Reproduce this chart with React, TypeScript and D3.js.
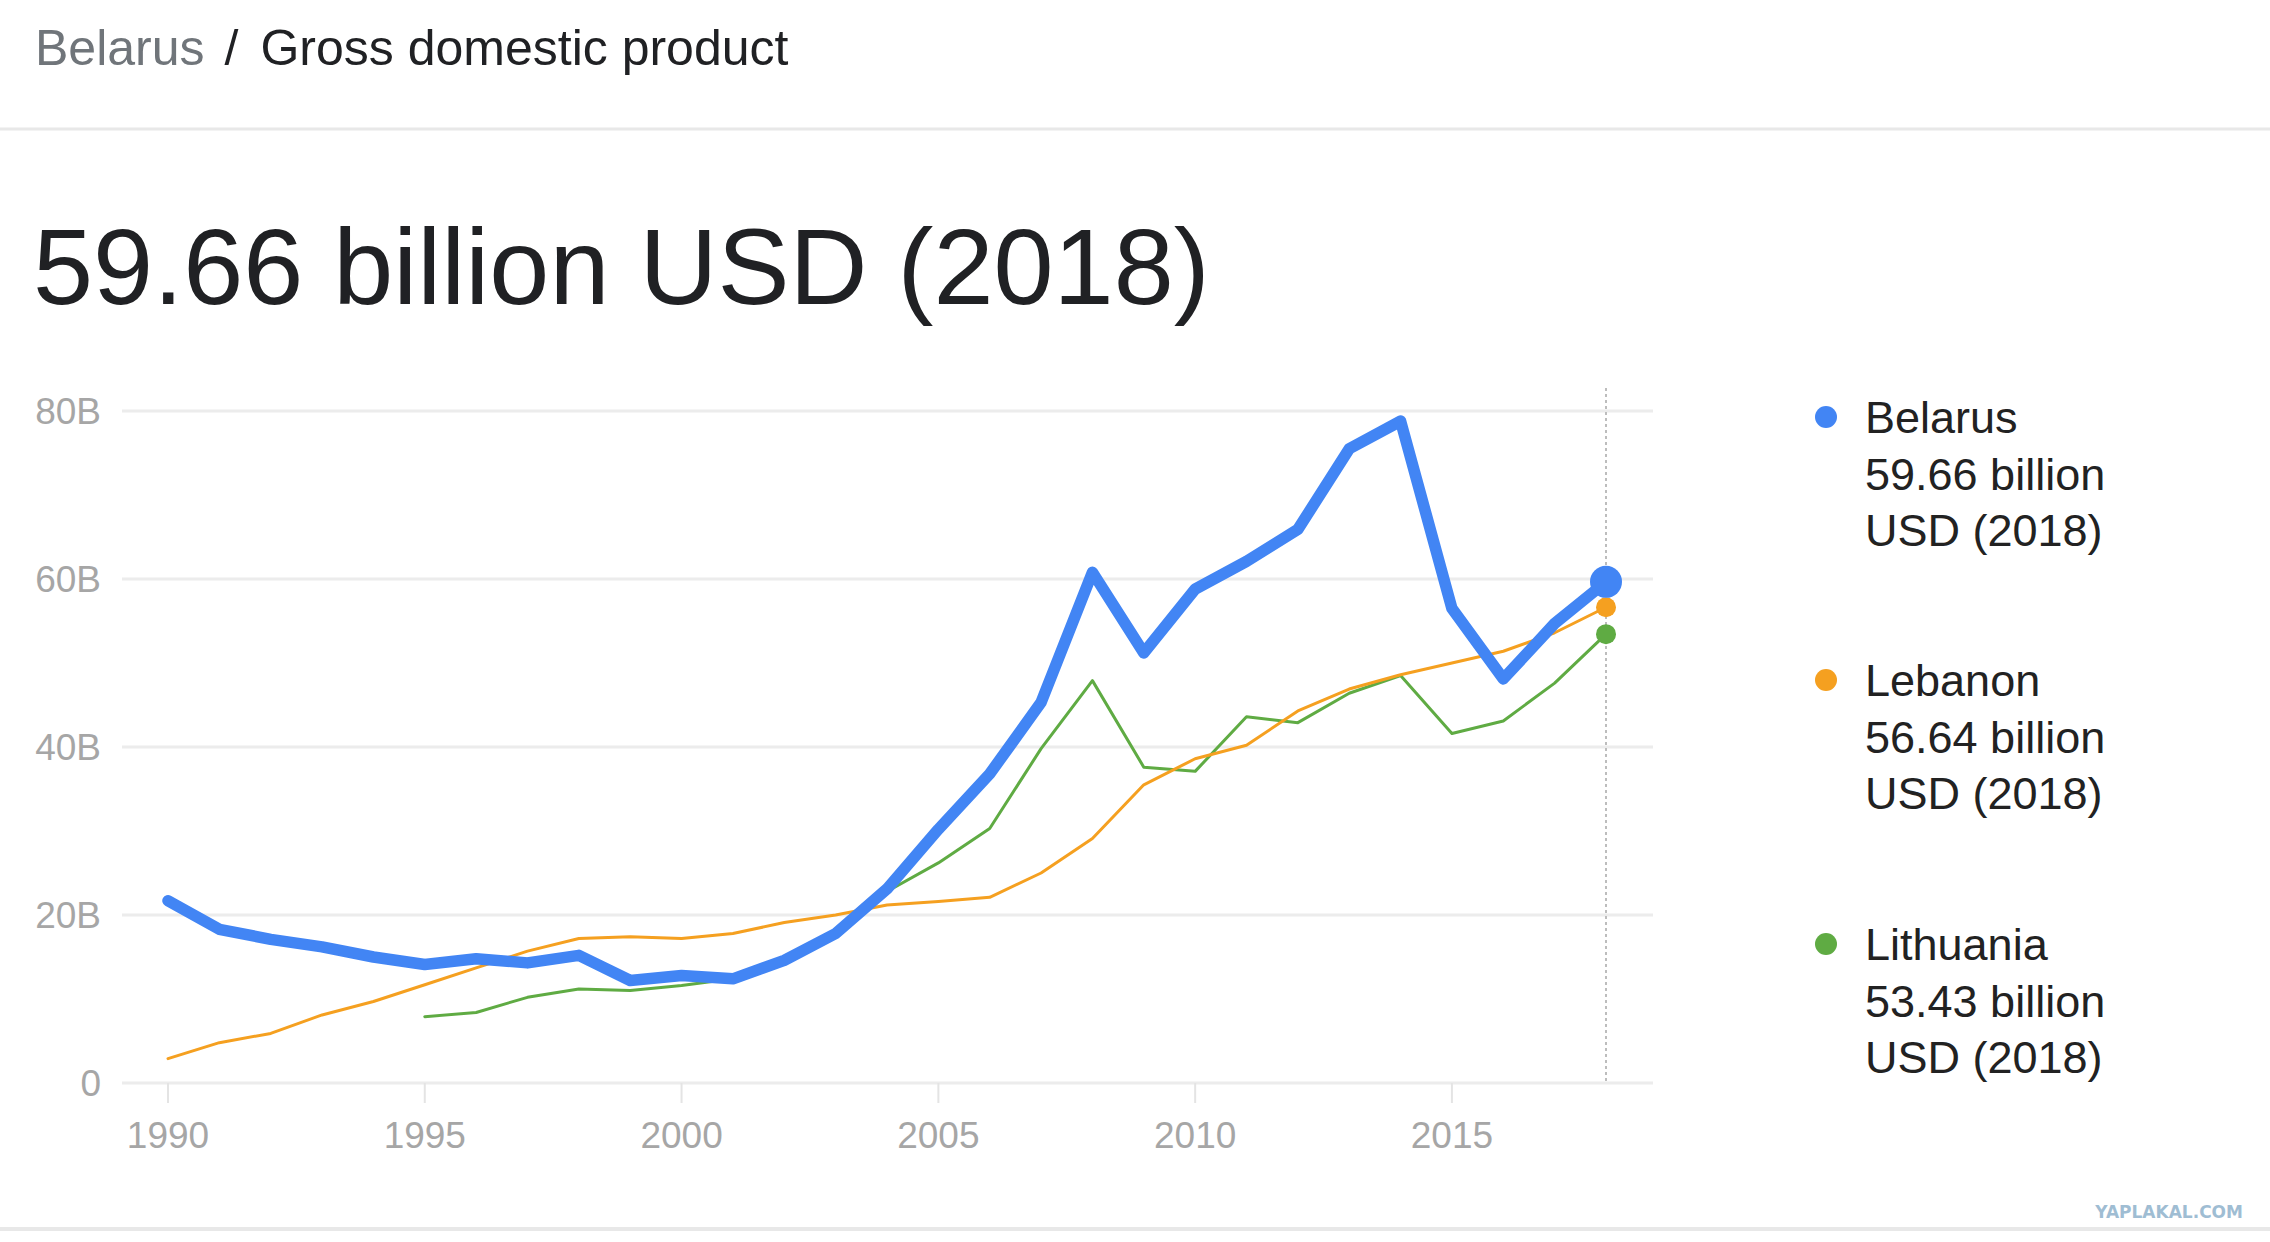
import React from 'react';
import * as d3 from 'd3';

// GDP in billions USD
const years = [
  1990, 1991, 1992, 1993, 1994, 1995, 1996, 1997, 1998, 1999,
  2000, 2001, 2002, 2003, 2004, 2005, 2006, 2007, 2008, 2009,
  2010, 2011, 2012, 2013, 2014, 2015, 2016, 2017, 2018,
];

const belarus = [
  21.7, 18.3, 17.1, 16.2, 15.0, 14.1, 14.8, 14.3, 15.2, 12.2,
  12.8, 12.4, 14.6, 17.8, 23.1, 30.2, 36.8, 45.3, 60.8, 51.2,
  58.8, 62.1, 65.9, 75.5, 78.8, 56.5, 48.1, 54.7, 59.66,
];

const lebanon = [
  2.9, 4.8, 5.9, 8.1, 9.7, 11.7, 13.7, 15.7, 17.2, 17.4,
  17.2, 17.8, 19.1, 20.0, 21.2, 21.6, 22.1, 25.0, 29.1, 35.5,
  38.6, 40.2, 44.3, 46.9, 48.6, 50.0, 51.4, 53.6, 56.64,
];

// Lithuania starts in 1995
const lithuania = [
  null, null, null, null, null, 7.9, 8.4, 10.2, 11.2, 11.0,
  11.6, 12.4, 14.5, 18.1, 22.8, 26.2, 30.3, 39.8, 47.9, 37.6,
  37.1, 43.6, 42.9, 46.4, 48.5, 41.6, 43.1, 47.6, 53.43,
];

const yTicks = [0, 20, 40, 60, 80];
const xTicks = [1990, 1995, 2000, 2005, 2010, 2015];

const series = [
  { name: 'Belarus', values: belarus, color: '#4285f4', width: 11.5, endR: 16, label: '59.66 billion' },
  { name: 'Lebanon', values: lebanon, color: '#f5a020', width: 3, endR: 10, label: '56.64 billion' },
  { name: 'Lithuania', values: lithuania, color: '#5fab43', width: 3, endR: 10, label: '53.43 billion' },
];

const W = 2270;
const H = 1242;
const FONT = '"Liberation Sans", Arial, sans-serif';

const App: React.FC = () => {
  const x = d3.scaleLinear().domain([1990, 2018]).range([168, 1606]);
  const y = d3.scaleLinear().domain([0, 80]).range([1083, 411]);

  const line = d3.line<number | null>()
    .defined(d => d != null)
    .x((_, i) => x(years[i]))
    .y(d => y(d as number));

  const lastYear = years[years.length - 1];
  const legendTop = [417, 680, 944];

  return (
    <div style={{ position: 'absolute', left: 0, top: 0, background: '#fff' }}>
      <svg width={W} height={H} style={{ display: 'block' }} fontFamily={FONT}>
        <rect width={W} height={H} fill="#fff" />

        {/* header */}
        <text x={35} y={65} fontSize={50}>
          <tspan fill="#70757a">Belarus</tspan>
          <tspan fill="#202124" dx={20}>/</tspan>
          <tspan fill="#202124" dx={22}>Gross domestic product</tspan>
        </text>
        <line x1={0} x2={W} y1={129} y2={129} stroke="#e8e8e8" strokeWidth={3} />

        <text x={33} y={304} fontSize={108} fill="#202124">59.66 billion USD (2018)</text>

        {/* grid + y axis */}
        {yTicks.map(t => (
          <g key={t}>
            <line x1={122} x2={1653} y1={y(t)} y2={y(t)} stroke="#ececec" strokeWidth={3} />
            <text x={101} y={y(t) + 13} fontSize={37} fill="#a6a6a6" textAnchor="end">
              {t === 0 ? '0' : `${t}B`}
            </text>
          </g>
        ))}

        {/* x axis */}
        {xTicks.map(t => (
          <g key={t}>
            <line x1={x(t)} x2={x(t)} y1={y(0)} y2={y(0) + 20} stroke="#e4e4e4" strokeWidth={2} />
            <text x={x(t)} y={1148} fontSize={37} fill="#a6a6a6" textAnchor="middle">{t}</text>
          </g>
        ))}

        {/* hover line at latest year */}
        <line x1={x(lastYear)} x2={x(lastYear)} y1={388} y2={y(0)}
          stroke="#bdbdbd" strokeWidth={2} strokeDasharray="3 3" />

        {/* lines, thin ones under the thick one */}
        {[...series].reverse().map(s => (
          <path key={s.name} d={line(s.values) ?? ''} fill="none" stroke={s.color}
            strokeWidth={s.width} strokeLinejoin="round" strokeLinecap="round" />
        ))}

        {[...series].reverse().map(s => (
          <circle key={s.name} cx={x(lastYear)} cy={y(s.values[s.values.length - 1] as number)}
            r={s.endR} fill={s.color} />
        ))}

        {/* legend */}
        {series.map((s, i) => (
          <g key={s.name}>
            <circle cx={1826} cy={legendTop[i]} r={11} fill={s.color} />
            <text x={1865} y={legendTop[i] + 16} fontSize={45} fill="#222">{s.name}</text>
            <text x={1865} y={legendTop[i] + 73} fontSize={45} fill="#222">{s.label}</text>
            <text x={1865} y={legendTop[i] + 129} fontSize={45} fill="#222">USD (2018)</text>
          </g>
        ))}

        {/* footer */}
        <text x={2243} y={1218} fontSize={17} fontWeight="bold" fill="#9fbdd3"
          textAnchor="end" fontFamily='"DejaVu Sans", sans-serif'>YAPLAKAL.COM</text>
        <line x1={0} x2={W} y1={1229} y2={1229} stroke="#e8e8e8" strokeWidth={4} />
      </svg>
    </div>
  );
};

export default App;
